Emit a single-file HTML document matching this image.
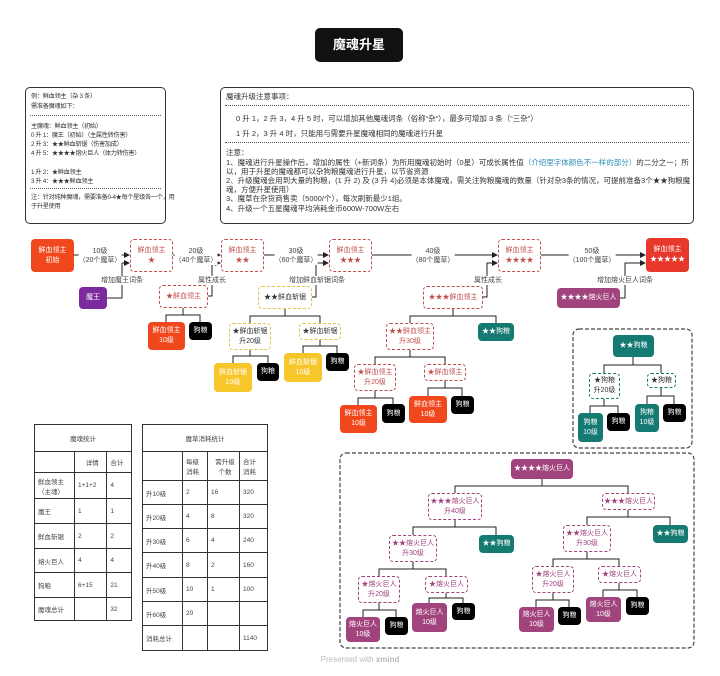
<!DOCTYPE html>
<html><head><meta charset="utf-8"><style>
body{margin:0;width:720px;height:676px;background:#fff;position:relative;overflow:hidden;font-family:"Liberation Sans","Noto Sans CJK SC",sans-serif;color:#333}
.a{position:absolute}
.n{position:absolute;display:flex;align-items:center;justify-content:center;text-align:center;font-size:7px;line-height:10px;border-radius:4px;box-sizing:border-box;white-space:nowrap}
.r{background:#f0481c;color:#fff}
.rd{border:1.3px dashed #c0504d;color:#c0504d;background:#fff}
.y{background:#f7c62b;color:#fff}
.yd{border:1.3px dashed #e3c34a;color:#333;background:#fff}
.k{background:#000;color:#fff}
.t{background:#147a72;color:#fff}
.td{border:1.3px dashed #147a72;color:#333;background:#fff}
.p{background:#a1437d;color:#fff}
.pd{border:1.3px dashed #a1437d;color:#a1437d;background:#fff}
.lb{position:absolute;font-size:7px;line-height:9px;text-align:center;background:#fff;color:#444;transform:translateX(-50%);white-space:nowrap}
.box{position:absolute;border:1.3px solid #333;border-radius:5px;box-sizing:border-box}
.tx{position:absolute;font-size:6.2px;letter-spacing:-0.3px;line-height:9px;color:#333;white-space:nowrap}
.tr{position:absolute;font-size:7.5px;line-height:9px;color:#333;white-space:nowrap}
.sep{position:absolute;border-top:1px dotted #555}
table{position:absolute;border-collapse:collapse;font-size:6.5px;color:#444}
td{border:1px solid #333;padding:0 0 0 3px;vertical-align:middle}
</style></head><body>
<div class="n" style="left:315px;top:28px;width:88px;height:34px;background:#111;color:#fff;font-size:13px;font-weight:bold;border-radius:5px">魔魂升星</div>

<div class="box" style="left:25px;top:87px;width:141px;height:137px"></div>
<div class="tx" style="left:31px;top:92px">例：鲜血领主（杂 3 条）</div>
<div class="tx" style="left:31px;top:102px">需准备魔魂如下：</div>
<div class="sep" style="left:30px;top:115px;width:131px"></div>
<div class="tx" style="left:31px;top:122px">主魔魂：鲜血领主（初始）</div>
<div class="tx" style="left:31px;top:131px">0 升 1：魔王（初始）（主属性转伤害）</div>
<div class="tx" style="left:31px;top:140px">2 升 3：★★鲜血斩锯（伤害加成）</div>
<div class="tx" style="left:31px;top:149px">4 升 5：★★★★熔火巨人（体力转伤害）</div>
<div class="tx" style="left:31px;top:168px">1 升 2：★鲜血领主</div>
<div class="tx" style="left:31px;top:177px">3 升 4：★★★鲜血领主</div>
<div class="sep" style="left:30px;top:188px;width:131px"></div>
<div class="tx" style="left:31px;top:193px">注：针对纯种魔魂，需要准备0-4★每个星级各一个，用</div>
<div class="tx" style="left:31px;top:202px">于升星使用</div>

<div class="box" style="left:220px;top:87px;width:474px;height:137px"></div>
<div class="tr" style="left:226px;top:92px">魔魂升级注意事项：</div>
<div class="sep" style="left:225px;top:105px;width:464px"></div>
<div class="tr" style="left:236px;top:114px">0 升 1，2 升 3，4 升 5 时，可以增加其他魔魂词条（俗称“杂”），最多可增加 3 条（“三杂”）</div>
<div class="tr" style="left:236px;top:129px">1 升 2，3 升 4 时，只能用与需要升星魔魂相同的魔魂进行升星</div>
<div class="sep" style="left:225px;top:142px;width:464px"></div>
<div class="tr" style="left:226px;top:148px">注意：</div>
<div class="tr" style="left:226px;top:158px">1、魔魂进行升星操作后，增加的属性（+新词条）为所用魔魂初始时（0星）可成长属性值<span style="color:#2a8fb8">（介绍里字体颜色不一样的部分）</span>的二分之一；所</div>
<div class="tr" style="left:226px;top:167px">以，用于升星的魔魂都可以杂狗粮魔魂进行升星，以节省资源</div>
<div class="tr" style="left:226px;top:176px">2、升级魔魂会用到大量的狗粮，(1 升 2) 及 (3 升 4)必须是本体魔魂，需关注狗粮魔魂的数量（针对杂3条的情况，可提前准备3个★★狗粮魔</div>
<div class="tr" style="left:226px;top:185px">魂，方便升星使用）</div>
<div class="tr" style="left:226px;top:194px">3、魔草在杂货商售卖（5000/个），每次刷新最少1组。</div>
<div class="tr" style="left:226px;top:204px">4、升级一个五星魔魂平均消耗金币600W-700W左右</div>

<svg class="a" style="left:0;top:0" width="720" height="676">
<defs><marker id="ar" markerWidth="6" markerHeight="6" refX="5" refY="3" orient="auto"><path d="M0,0 L6,3 L0,6 z" fill="#222"/></marker></defs>
<g stroke="#222" stroke-width="1" fill="none">
<path d="M74 255H129" marker-end="url(#ar)"/>
<path d="M173 255H220" marker-end="url(#ar)"/>
<path d="M264 255H328" marker-end="url(#ar)"/>
<path d="M372 255H497" marker-end="url(#ar)"/>
<path d="M541 255H645" marker-end="url(#ar)"/>
<path d="M107 298H122V263H129" marker-end="url(#ar)"/>
<path d="M208 296H212V263H220" marker-end="url(#ar)"/>
<path d="M312 297H316V263H328" marker-end="url(#ar)"/>
<path d="M483 297H487V263H497" marker-end="url(#ar)"/>
<path d="M620 298H625V263H645" marker-end="url(#ar)"/>
<path d="M183 308V315M166 322V315H200V322"/>
<path d="M285 309V316M250 323V316H320V323"/>
<path d="M250 350V356M233 363V356H268V363"/>
<path d="M320 340V346M303 353V346H337V353"/>
<path d="M453 309V316M410 323V316H496V323"/>
<path d="M410 350V357M375 364V357H445V364"/>
<path d="M375 391V398M358 405V398H393V404"/>
<path d="M445 381V388M428 396V388H462V396"/>
<path d="M633 357V365M604 373V365H661V373"/>
<path d="M604 399V406M590 413V406H618V413"/>
<path d="M661 388V396M647 404V396H674V404"/>
<path d="M542 479V486M455 493V486H628V493"/>
<path d="M455 520V527M413 535V527H496V535"/>
<path d="M628 510V517M587 525V517H670V525"/>
<path d="M413 562V569M379 576V569H446V576"/>
<path d="M379 603V610M363 617V610H396V617"/>
<path d="M446 593V598M429 603V598H463V603"/>
<path d="M587 552V559M553 566V559H619V566"/>
<path d="M553 593V600M536 607V600H569V607"/>
<path d="M619 583V590M603 597V590H637V597"/>
</g>
<rect x="573" y="329" width="119" height="119" rx="6" fill="none" stroke="#444" stroke-width="1.2" stroke-dasharray="4,2"/>
<rect x="340" y="453" width="354" height="195" rx="6" fill="none" stroke="#444" stroke-width="1.2" stroke-dasharray="4,2"/>
</svg>

<div class="lb" style="left:100px;top:247px">10级<br>（20个魔草）</div>
<div class="lb" style="left:196px;top:247px">20级<br>（40个魔草）</div>
<div class="lb" style="left:296px;top:247px">30级<br>（60个魔草）</div>
<div class="lb" style="left:433px;top:247px">40级<br>（80个魔草）</div>
<div class="lb" style="left:592px;top:247px">50级<br>（100个魔草）</div>
<div class="lb" style="left:122px;top:276px">增加魔王词条</div>
<div class="lb" style="left:212px;top:276px">属性成长</div>
<div class="lb" style="left:317px;top:276px">增加鲜血斩锯词条</div>
<div class="lb" style="left:488px;top:276px">属性成长</div>
<div class="lb" style="left:625px;top:276px">增加熔火巨人词条</div>

<div class="n r" style="left:31px;top:239px;width:43px;height:33px">鲜血领主<br>初始</div>
<div class="n rd" style="left:130px;top:239px;width:43px;height:33px">鲜血领主<br>★</div>
<div class="n rd" style="left:221px;top:239px;width:43px;height:33px">鲜血领主<br>★★</div>
<div class="n rd" style="left:329px;top:239px;width:43px;height:33px">鲜血领主<br>★★★</div>
<div class="n rd" style="left:498px;top:239px;width:43px;height:33px">鲜血领主<br>★★★★</div>
<div class="n" style="left:646px;top:238px;width:43px;height:34px;background:#e8372b;color:#fff">鲜血领主<br>★★★★★</div>

<div class="n" style="left:79px;top:287px;width:28px;height:22px;background:#7b2a9e;color:#fff">魔王</div>
<div class="n rd" style="left:159px;top:285px;width:49px;height:23px">★鲜血领主</div>
<div class="n r" style="left:148px;top:322px;width:37px;height:28px">鲜血领主<br>10级</div>
<div class="n k" style="left:189px;top:322px;width:23px;height:18px">狗粮</div>

<div class="n yd" style="left:258px;top:286px;width:54px;height:23px">★★鲜血斩锯</div>
<div class="n yd" style="left:229px;top:323px;width:42px;height:27px">★鲜血斩锯<br>升20级</div>
<div class="n yd" style="left:299px;top:323px;width:42px;height:17px">★鲜血斩锯</div>
<div class="n y" style="left:214px;top:363px;width:38px;height:29px">鲜血斩锯<br>10级</div>
<div class="n k" style="left:257px;top:363px;width:22px;height:18px">狗粮</div>
<div class="n y" style="left:284px;top:353px;width:38px;height:29px">鲜血斩锯<br>10级</div>
<div class="n k" style="left:326px;top:353px;width:23px;height:18px">狗粮</div>

<div class="n rd" style="left:423px;top:286px;width:60px;height:23px">★★★鲜血领主</div>
<div class="n rd" style="left:386px;top:323px;width:48px;height:27px">★★鲜血领主<br>升30级</div>
<div class="n t" style="left:478px;top:323px;width:36px;height:18px">★★狗粮</div>
<div class="n rd" style="left:354px;top:364px;width:42px;height:27px">★鲜血领主<br>升20级</div>
<div class="n rd" style="left:424px;top:364px;width:42px;height:17px">★鲜血领主</div>
<div class="n r" style="left:340px;top:405px;width:37px;height:28px">鲜血领主<br>10级</div>
<div class="n k" style="left:382px;top:404px;width:23px;height:19px">狗粮</div>
<div class="n r" style="left:409px;top:396px;width:38px;height:27px">鲜血领主<br>10级</div>
<div class="n k" style="left:451px;top:396px;width:23px;height:18px">狗粮</div>

<div class="n p" style="left:557px;top:288px;width:63px;height:20px">★★★★熔火巨人</div>

<div class="n t" style="left:613px;top:335px;width:41px;height:22px">★★狗粮</div>
<div class="n td" style="left:589px;top:373px;width:31px;height:26px">★狗粮<br>升20级</div>
<div class="n td" style="left:647px;top:373px;width:29px;height:15px">★狗粮</div>
<div class="n t" style="left:578px;top:413px;width:25px;height:29px">狗粮<br>10级</div>
<div class="n k" style="left:607px;top:413px;width:23px;height:18px">狗粮</div>
<div class="n t" style="left:635px;top:404px;width:24px;height:28px">狗粮<br>10级</div>
<div class="n k" style="left:663px;top:404px;width:23px;height:18px">狗粮</div>

<div class="n p" style="left:511px;top:459px;width:62px;height:20px">★★★★熔火巨人</div>
<div class="n pd" style="left:428px;top:493px;width:54px;height:27px">★★★熔火巨人<br>升40级</div>
<div class="n pd" style="left:602px;top:493px;width:53px;height:17px">★★★熔火巨人</div>
<div class="n pd" style="left:389px;top:535px;width:48px;height:27px">★★熔火巨人<br>升30级</div>
<div class="n t" style="left:479px;top:535px;width:35px;height:18px">★★狗粮</div>
<div class="n pd" style="left:563px;top:525px;width:48px;height:27px">★★熔火巨人<br>升30级</div>
<div class="n t" style="left:653px;top:525px;width:35px;height:18px">★★狗粮</div>
<div class="n pd" style="left:358px;top:576px;width:42px;height:27px">★熔火巨人<br>升20级</div>
<div class="n pd" style="left:425px;top:576px;width:43px;height:17px">★熔火巨人</div>
<div class="n pd" style="left:532px;top:566px;width:42px;height:27px">★熔火巨人<br>升20级</div>
<div class="n pd" style="left:598px;top:566px;width:43px;height:17px">★熔火巨人</div>
<div class="n p" style="left:346px;top:617px;width:34px;height:25px">熔火巨人<br>10级</div>
<div class="n k" style="left:385px;top:617px;width:23px;height:18px">狗粮</div>
<div class="n p" style="left:412px;top:603px;width:35px;height:29px">熔火巨人<br>10级</div>
<div class="n k" style="left:452px;top:603px;width:23px;height:17px">狗粮</div>
<div class="n p" style="left:519px;top:607px;width:35px;height:25px">熔火巨人<br>10级</div>
<div class="n k" style="left:558px;top:607px;width:23px;height:18px">狗粮</div>
<div class="n p" style="left:586px;top:597px;width:35px;height:25px">熔火巨人<br>10级</div>
<div class="n k" style="left:626px;top:597px;width:23px;height:18px">狗粮</div>

<table style="left:34px;top:424px;width:98px;height:196px">
<tr style="height:27px"><td colspan="3" style="text-align:center;padding:0">魔魂统计</td></tr>
<tr style="height:21px"><td style="width:36px"></td><td style="text-align:center">详情</td><td>合计</td></tr>
<tr style="height:26px"><td>鲜血领主<br>（主魂）</td><td>1+1+2</td><td>4</td></tr>
<tr style="height:25px"><td>魔王</td><td>1</td><td>1</td></tr>
<tr style="height:25px"><td>鲜血斩锯</td><td>2</td><td>2</td></tr>
<tr style="height:24px"><td>熔火巨人</td><td>4</td><td>4</td></tr>
<tr style="height:25px"><td>狗粮</td><td>6+15</td><td>21</td></tr>
<tr style="height:23px"><td>魔魂总计</td><td></td><td>32</td></tr>
</table>
<table style="left:142px;top:424px;width:126px;height:226px">
<tr style="height:27px"><td colspan="4" style="text-align:center;padding:0">魔草消耗统计</td></tr>
<tr style="height:29px"><td style="width:36px"></td><td style="width:21px">每级<br>消耗</td><td style="width:28px;text-align:center">需升级<br>个数</td><td>合计<br>消耗</td></tr>
<tr style="height:24px"><td>升10级</td><td>2</td><td>16</td><td>320</td></tr>
<tr style="height:24px"><td>升20级</td><td>4</td><td>8</td><td>320</td></tr>
<tr style="height:24px"><td>升30级</td><td>6</td><td>4</td><td>240</td></tr>
<tr style="height:25px"><td>升40级</td><td>8</td><td>2</td><td>160</td></tr>
<tr style="height:24px"><td>升50级</td><td>10</td><td>1</td><td>100</td></tr>
<tr style="height:24px"><td>升60级</td><td>20</td><td></td><td></td></tr>
<tr style="height:25px"><td>消耗总计</td><td></td><td></td><td>1140</td></tr>
</table>

<div class="a" style="left:0;width:720px;top:655px;text-align:center;font-size:8px;color:#bbb">Presented with <b>xmind</b></div>
</body></html>
